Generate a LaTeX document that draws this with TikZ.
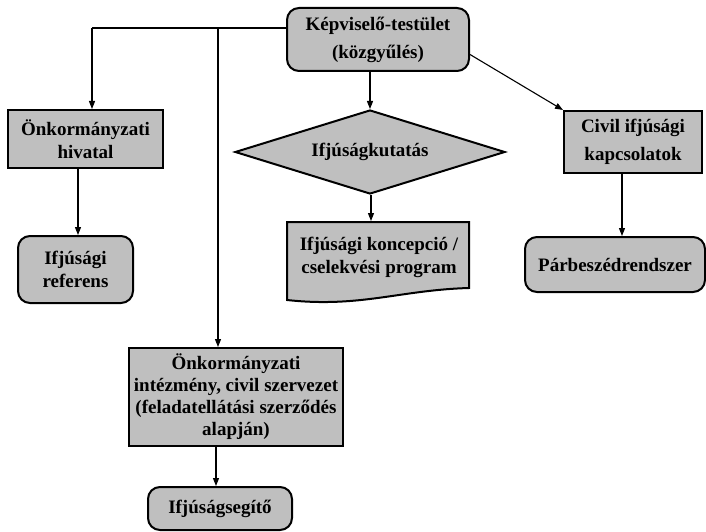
\documentclass[tikz,border=0pt]{standalone}
\usepackage{fontspec}
\setmainfont{Liberation Serif}
\usetikzlibrary{shapes.geometric,arrows.meta,calc}
\definecolor{boxgray}{RGB}{191,191,191}
\begin{document}
\begin{tikzpicture}[x=1pt,y=-1pt,
  box/.style={draw=black,line width=2pt,fill=boxgray,align=center,inner sep=0pt,
    font=\fontsize{19}{23}\selectfont\bfseries},
  wide/.style={font=\fontsize{19}{28}\selectfont\bfseries},
  tight/.style={font=\fontsize{19}{22}\selectfont\bfseries},
  rbox/.style={box,rounded corners=12pt},
  dia/.style={box,diamond,shape aspect=3.2},
  ln/.style={line width=1.1pt},
  arr/.style={line width=1.1pt,-{Triangle[length=8pt,width=6pt]}}]
\useasboundingbox (0,0) rectangle (706,532);

\node[rbox,wide,minimum width=182pt,minimum height=63pt] (top) at (378,39.5) {Képviselő-testület\\(közgyűlés)};
\node[box,minimum width=155pt,minimum height=58pt] (hiv) at (85.5,139) {Önkormányzati\\hivatal};
\node[rbox,minimum width=115pt,minimum height=67pt] (ref) at (75.5,269.5) {Ifjúsági\\referens};
\node[dia,minimum width=270pt,minimum height=84pt] (dia) at (370,152) {Ifjúságkutatás};
\node[box,wide,minimum width=138pt,minimum height=62pt] (civ) at (633,142) {Civil ifjúsági\\kapcsolatok};
\node[rbox,minimum width=180pt,minimum height=55pt] (par) at (615,264.5) {Párbeszédrendszer};
\node[box,tight,minimum width=214pt,minimum height=98pt] (int) at (236,397) {Önkormányzati\\intézmény, civil szervezet\\(feladatellátási szerződés\\alapján)};
\node[rbox,minimum width=144pt,minimum height=43pt] (seg) at (220,508.5) {Ifjúságsegítő};

% document shape
\draw[line width=2pt,fill=boxgray] (287,222) -- (469,222) -- (469,288)
  .. controls (400,290) and (360,308) .. (287,300) -- cycle;
\node[box,draw=none,fill=none] (doc) at (379,257) {Ifjúsági koncepció /\\cselekvési program};
\coordinate (doctop) at (371,221);

% connectors
\coordinate (jl) at (92,28);
\coordinate (jm) at (218,28);
\draw[ln] (top.west |- jl) -- (jl);
\draw[arr] (jl) -- (jl |- hiv.north);
\draw[arr] (jm) -- (jm |- int.north);
\draw[arr] (dia.north |- top.south) -- (dia.north);
\draw[arr] (doctop |- dia.south) -- (doctop);
\draw[arr] ($(top.east)+(0,15)$) -- (civ.north west);
\coordinate (c0) at ($(hiv.south)+(-7.5,0)$);
\draw[arr] (c0) -- (c0 |- ref.north);
\coordinate (c1) at ($(civ.south)+(-11,0)$);
\draw[arr] (c1) -- (c1 |- par.north);
\coordinate (c2) at ($(seg.north)+(-4,0)$);
\draw[arr] (c2 |- int.south) -- (c2);
\end{tikzpicture}
\end{document}
